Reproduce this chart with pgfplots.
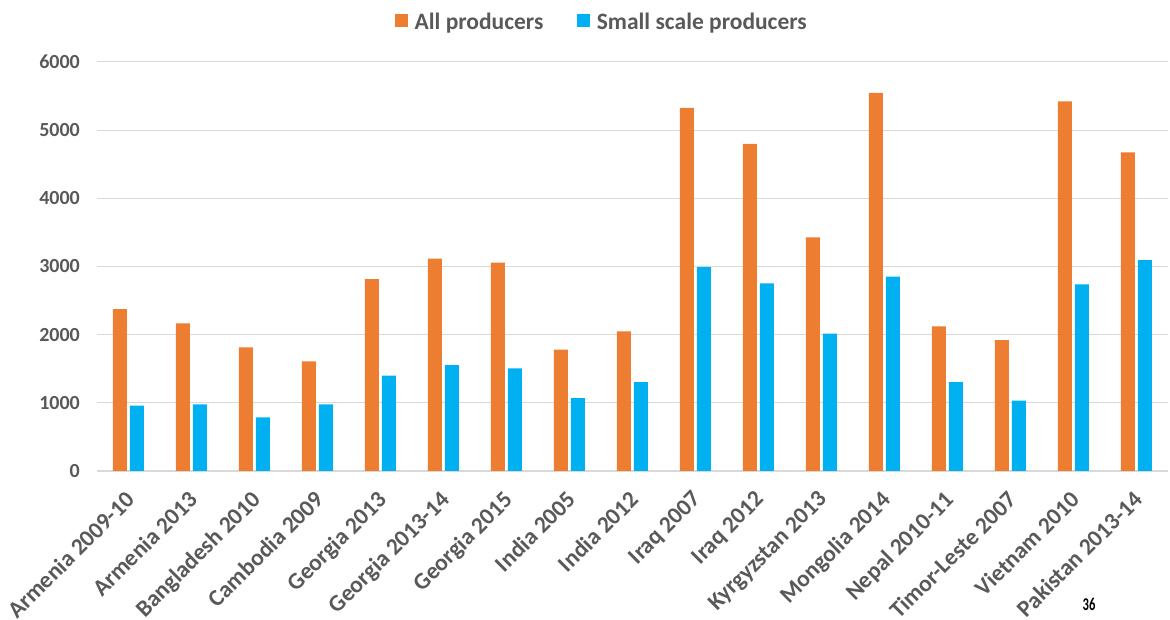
\documentclass[border=0pt]{standalone}
\usepackage{pgfplots}
\pgfplotsset{compat=1.18}
\usepackage{fontspec}
\setmainfont{Carlito}
\definecolor{allorange}{HTML}{ED7D31}
\definecolor{smallblue}{HTML}{00B0F0}
\definecolor{gridgray}{HTML}{D9D9D9}
\definecolor{labelgray}{HTML}{595959}
\begin{document}
\begin{tikzpicture}
\useasboundingbox (0pt,0pt) rectangle (1170pt,620pt);
\begin{axis}[
  at={(97pt,149pt)}, anchor=south west,
  scale only axis, width=1071pt, height=409pt,
  ybar=3pt, bar width=14pt,
  xmin=-0.5, xmax=16.5, ymin=0, ymax=6000,
  xtick={0,...,16},
  xticklabels={Armenia 2009-10,Armenia 2013,Bangladesh 2010,Cambodia 2009,Georgia 2013,Georgia 2013-14,Georgia 2015,India 2005,India 2012,Iraq 2007,Iraq 2012,Kyrgyzstan 2013,Mongolia 2014,Nepal 2010-11,Timor-Leste 2007,Vietnam 2010,Pakistan 2013-14},
  ytick={0,1000,...,6000},
  scaled y ticks=false,
  major tick length=0pt,
  ymajorgrids, grid style={draw=gridgray, line width=1pt},
  axis lines*=left,
  y axis line style={draw=none},
  x axis line style={draw=gridgray, line width=2pt},
  tick label style={text=labelgray},
  yticklabel style={font=\fontsize{20}{20}\selectfont\bfseries, /pgf/number format/1000 sep={}, /pgf/number format/assume math mode=true, anchor=east, inner sep=0pt, xshift=-17pt},
  xticklabel style={font=\fontsize{23.5}{24}\selectfont\bfseries, rotate=45, anchor=north east, inner sep=0pt, xshift=-16pt, yshift=-10pt},
  legend columns=2,
  legend style={at={(axis description cs:0.2782,1.0978)}, anchor=west, draw=none, fill=none, inner sep=0pt,
    font=\fontsize{23.5}{24}\selectfont\bfseries, text=labelgray,
    /tikz/every odd column/.append style={column sep=5pt},
    /tikz/every even column/.append style={column sep=32pt}},
  legend image code/.code={\fill[#1] (0pt,-4.5pt) rectangle (12.5pt,8pt);},
]
\addplot[fill=allorange, draw=none] coordinates {
(0,2375) (1,2166) (2,1814) (3,1608) (4,2815) (5,3114) (6,3056) (7,1780) (8,2048)
(9,5328) (10,4800) (11,3427) (12,5548) (13,2122) (14,1921) (15,5421) (16,4673)};
\addplot[fill=smallblue, draw=none] coordinates {
(0,959) (1,978) (2,787) (3,978) (4,1399) (5,1554) (6,1506) (7,1070) (8,1305)
(9,2991) (10,2752) (11,2015) (12,2850) (13,1305) (14,1032) (15,2738) (16,3094)};
\legend{All producers, Small scale producers}
\end{axis}
\node[font=\fontsize{18}{18}\selectfont\bfseries, text=black] at (1089pt,16pt) {\scalebox{0.7}[1]{36}};
\end{tikzpicture}
\end{document}
